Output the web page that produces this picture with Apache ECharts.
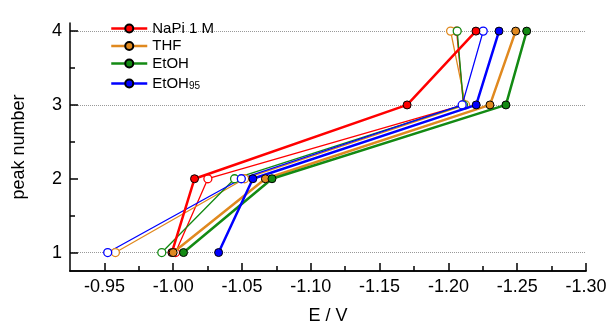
<!DOCTYPE html>
<html>
<head>
    <meta charset="UTF-8">
    <title>peak number vs E</title>
    <script type="text/javascript" src="https://cdn.jsdelivr.net/npm/echarts@6/dist/echarts.min.js"></script>
    <style type="text/css">
        body { margin: 0; background: #fff; }
    </style>
</head>
<body>
<div id="main" style="width: 611px; height: 331px;"></div>
<script>
// peak numbers on the y axis
var peaks = [1, 2, 3, 4];
// E / V for each peak, filled markers and open markers
var napiFilled   = [-0.999, -1.0155, -1.170, -1.220];
var napiOpen     = [-1.0017, -1.0252, -1.211, -1.206];
var thfFilled    = [-1.000, -1.067, -1.2302, -1.2489];
var thfOpen      = [-0.958, -1.0519, -1.2125, -1.2016];
var etohFilled   = [-1.0075, -1.0718, -1.2418, -1.2569];
var etohOpen     = [-0.9917, -1.0446, -1.211, -1.2064];
var etoh95Filled = [-1.033, -1.0579, -1.2202, -1.2368];
var etoh95Open   = [-0.9524, -1.0495, -1.210, -1.2253];

var xMin = -1.30, xMax = -0.925;
var yMin = 0.75, yMax = 4.11;
var xMajor = [-0.95, -1.00, -1.05, -1.10, -1.15, -1.20, -1.25, -1.30];
var xMinor = [-0.975, -1.025, -1.075, -1.125, -1.175, -1.225, -1.275];
var yMajor = [1, 2, 3, 4];
var yMinor = [1.5, 2.5, 3.5];
var gridLines = [1, 3, 4];

var FONT = 'Liberation Sans';

function mk(name, vals, color, filled) {
    return {
        name: filled ? name : name + ' (open)',
        type: 'line',
        data: peaks.map(function (p, i) { return [vals[i], p]; }),
        symbol: 'circle',
        symbolSize: 8,
        lineStyle: { color: color, width: filled ? 2.5 : 1.3 },
        itemStyle: {
            color: filled ? color : '#fff',
            borderColor: filled ? '#000' : color,
            borderWidth: filled ? 1 : 1.3
        },
        z: filled ? 4 : 3
    };
}

var series = [
    mk('NaPi 1 M', napiOpen, '#ff0000', false),
    mk('THF', thfOpen, '#e0891f', false),
    mk('EtOH', etohOpen, '#138a13', false),
    mk('EtOH95', etoh95Open, '#0000ff', false),
    mk('NaPi 1 M', napiFilled, '#ff0000', true),
    mk('THF', thfFilled, '#e0891f', true),
    mk('EtOH', etohFilled, '#138a13', true),
    mk('EtOH95', etoh95Filled, '#0000ff', true)
];

var myChart = echarts.init(document.getElementById('main'));
myChart.setOption({
    animation: false,
    textStyle: { fontFamily: FONT },
    grid: { left: 70, right: 25, top: 23, bottom: 60 },
    legend: {
        orient: 'vertical',
        left: 105,
        top: 16,
        itemWidth: 36,
        itemHeight: 10,
        itemGap: 2.5,
        lineStyle: { width: 2.5 },
        data: ['NaPi 1 M', 'THF', 'EtOH', 'EtOH95'],
        formatter: function (n) {
            if (n === 'EtOH95') return '{m|EtOH}{s|95}';
            return '{m|' + n + '}';
        },
        textStyle: {
            fontSize: 15,
            color: '#000',
            fontFamily: FONT,
            rich: {
                m: { fontSize: 15, fontFamily: FONT, color: '#000', lineHeight: 16 },
                s: { fontSize: 10, fontFamily: FONT, color: '#000', lineHeight: 16, verticalAlign: 'bottom', padding: [8, 0, 0, 0] }
            }
        }
    },
    xAxis: [{
        type: 'value',
        inverse: true,
        min: xMin,
        max: xMax,
        name: 'E / V',
        nameLocation: 'middle',
        nameGap: 38,
        nameTextStyle: { fontSize: 18, lineHeight: 14, color: '#000', fontFamily: FONT },
        axisLine: { show: true, onZero: false, lineStyle: { color: '#000', width: 1.5 } },
        axisTick: { show: true, inside: true, length: 8, customValues: xMajor, lineStyle: { color: '#000', width: 1.5 } },
        axisLabel: {
            customValues: xMajor,
            fontSize: 18, color: '#000', margin: 7, fontFamily: FONT,
            formatter: function (v) { return v.toFixed(2); }
        },
        splitLine: { show: false }
    }, {
        type: 'value',
        inverse: true,
        min: xMin,
        max: xMax,
        position: 'bottom',
        axisLine: { show: true, onZero: false, lineStyle: { color: '#000', width: 1.5 } },
        axisTick: { show: true, inside: true, length: 5, customValues: xMinor, lineStyle: { color: '#000', width: 1.5 } },
        axisLabel: { show: false },
        splitLine: { show: false }
    }],
    yAxis: [{
        type: 'value',
        min: yMin,
        max: yMax,
        name: 'peak number',
        nameLocation: 'middle',
        nameGap: 42,
        nameTextStyle: { fontSize: 18, color: '#000', fontFamily: FONT },
        axisLine: { onZero: false, lineStyle: { color: '#000', width: 1.5 } },
        axisTick: { inside: true, length: 8, customValues: yMajor, lineStyle: { color: '#000', width: 1.5 } },
        axisLabel: { customValues: yMajor, fontSize: 18, color: '#000', margin: 8, fontFamily: FONT },
        splitLine: { show: false }
    }, {
        type: 'value',
        min: yMin,
        max: yMax,
        position: 'left',
        axisLine: { show: false, onZero: false },
        axisTick: { inside: true, length: 5, customValues: yMinor, lineStyle: { color: '#000', width: 1.5 } },
        axisLabel: { show: false },
        splitLine: { show: false }
    }, {
        // dotted guide lines at the tick values listed in gridLines
        type: 'value',
        min: yMin,
        max: yMax,
        position: 'left',
        axisLine: { show: false, onZero: false },
        axisTick: { show: false, customValues: gridLines },
        axisLabel: { show: false },
        splitLine: { show: true, lineStyle: { color: '#999', type: 'dotted', width: 1 } }
    }],
    series: series
});
</script>
</body>
</html>
